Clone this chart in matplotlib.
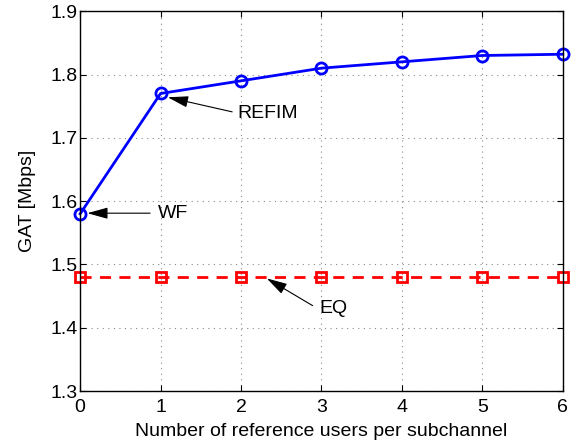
import matplotlib
matplotlib.use("Agg")
import matplotlib.pyplot as plt

plt.rcParams['font.family'] = ['Liberation Sans', 'DejaVu Sans']

users = [0, 1, 2, 3, 4, 5, 6]
refim = [1.58, 1.77, 1.79, 1.81, 1.82, 1.83, 1.832]
eq = [1.48, 1.48, 1.48, 1.48, 1.48, 1.48, 1.48]
yticks = [1.3, 1.4, 1.5, 1.6, 1.7, 1.8, 1.9]

fig = plt.figure(figsize=(5.85, 4.47), dpi=100)
ax = fig.add_axes([0.137, 0.125, 0.825, 0.85])

ax.plot(users, refim, 'b-o', lw=2, ms=8, mfc='none', mew=2, clip_on=False)
ax.plot(users, eq, 'r--s', lw=2, ms=6.5, mfc='none', mew=2, dashes=(4, 3), clip_on=False)

ax.set_xlim(0, 6)
ax.set_ylim(1.3, 1.9)
ax.set_xticks(users)
ax.set_yticks(yticks)
ax.set_yticklabels([f'{v:.1f}' for v in yticks])
ax.tick_params(direction='in', labelsize=14, length=4, top=True, right=True, pad=2)
ax.tick_params(axis='x', pad=6)
ax.grid(True, ls=(0, (1, 4)), color='#888888', lw=0.8)
for s in ax.spines.values():
    s.set_linewidth(1)

ax.set_xlabel('Number of reference users per subchannel', fontsize=14, labelpad=5)
ax.set_ylabel('GAT [Mbps]', fontsize=14, labelpad=10)

arr = dict(arrowstyle='-|>,head_length=0.9,head_width=0.25', color='black', lw=0.8,
           mutation_scale=14, shrinkA=0, shrinkB=0)
ax.text(1.95, 1.739, 'REFIM', fontsize=14, va='center', ha='left')
ax.annotate('', xy=(1.09, 1.764), xytext=(1.89, 1.741), arrowprops=arr)
ax.text(0.97, 1.581, 'WF', fontsize=14, va='center', ha='left')
ax.annotate('', xy=(0.09, 1.581), xytext=(0.87, 1.581), arrowprops=arr)
ax.text(2.98, 1.431, 'EQ', fontsize=14, va='center', ha='left')
ax.annotate('', xy=(2.32, 1.478), xytext=(2.89, 1.435), arrowprops=arr)

fig.savefig('out.png', dpi=100)
